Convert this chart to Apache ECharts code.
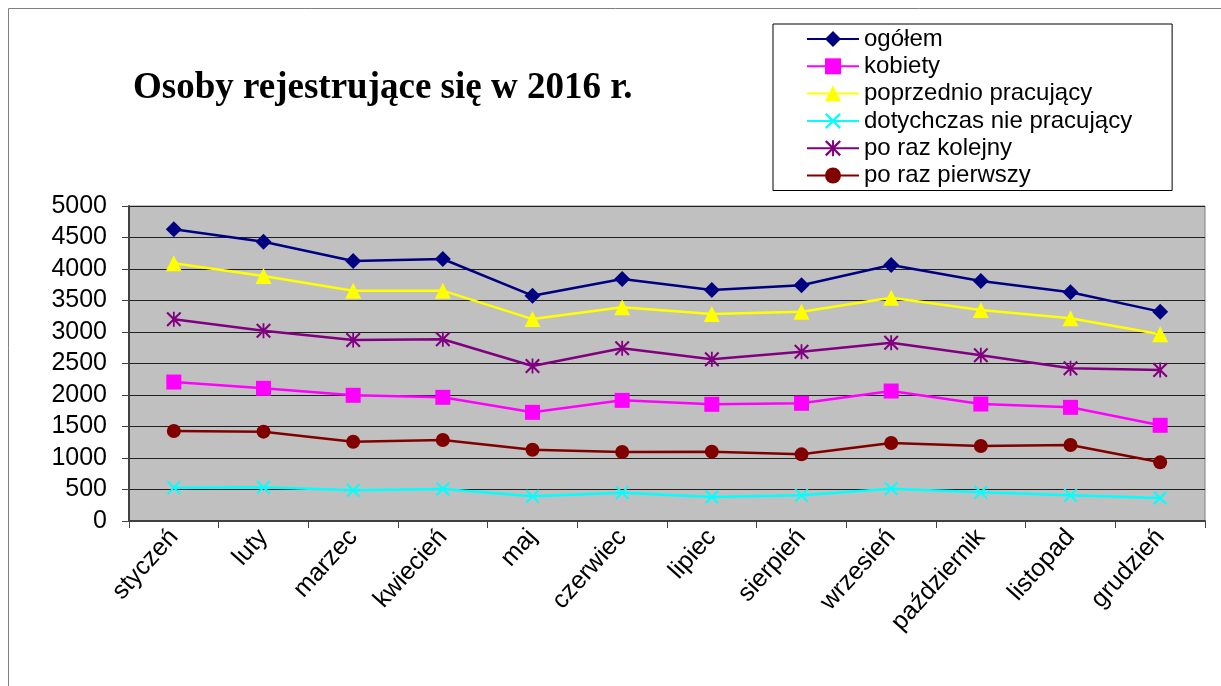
<!DOCTYPE html>
<html>
<head>
<meta charset="utf-8">
<script src="https://cdn.jsdelivr.net/npm/echarts@6/dist/echarts.min.js"></script>
<style>
  html, body { margin: 0; padding: 0; background: #fff; }
  #chart { width: 1221px; height: 686px; }
</style>
</head>
<body>
<div id="chart"></div>
<script>
var months = ['styczeń', 'luty', 'marzec', 'kwiecień', 'maj', 'czerwiec', 'lipiec', 'sierpień', 'wrzesień', 'październik', 'listopad', 'grudzień'];
var ogolem = [4630, 4434, 4127, 4159, 3577, 3841, 3667, 3741, 4063, 3810, 3630, 3323];
var kobiety = [2206, 2106, 1995, 1963, 1725, 1915, 1852, 1868, 2063, 1857, 1804, 1519];
var poprzednio = [4090, 3889, 3656, 3656, 3205, 3392, 3286, 3323, 3545, 3349, 3217, 2963];
var dotychczas = [529, 534, 487, 508, 392, 450, 381, 407, 513, 455, 407, 365];
var kolejny = [3201, 3021, 2873, 2884, 2460, 2741, 2566, 2688, 2831, 2630, 2423, 2397];
var pierwszy = [1429, 1418, 1259, 1286, 1132, 1095, 1101, 1058, 1238, 1190, 1206, 931];

// znaczniki x i gwiazdka jako sciezki
var crossPath = 'path://M0,1 L1,0 L5,4 L9,0 L10,1 L6,5 L10,9 L9,10 L5,6 L1,10 L0,9 L4,5 Z';
var starPath = 'path://M0,1 L1,0 L5,4 L9,0 L10,1 L6,5 L10,9 L9,10 L5,6 L1,10 L0,9 L4,5 Z M4.4,0 L5.6,0 L5.6,10 L4.4,10 Z';

function serie(name, data, color, symbol, size) {
    return {
        name: name,
        type: 'line',
        data: data,
        symbol: symbol,
        symbolSize: size,
        showAllSymbol: true,
        lineStyle: { color: color, width: 2.5 },
        itemStyle: { color: color },
        emphasis: { disabled: true },
        animation: false
    };
}

var myChart = echarts.init(document.getElementById('chart'));
var option = {
    backgroundColor: '#fff',
    animation: false,
    title: {
        text: 'Osoby rejestrujące się w 2016 r.',
        left: 133,
        top: 70,
        padding: 0,
        textStyle: {
            fontFamily: 'Liberation Serif',
            fontWeight: 'bold',
            fontSize: 37,
            color: '#000'
        }
    },
    graphic: [{
        type: 'rect',
        shape: { x: 8.5, y: 8.5, width: 1400, height: 900 },
        style: { fill: 'none', stroke: '#808080', lineWidth: 1 },
        silent: true
    }],
    legend: {
        orient: 'vertical',
        left: 773,
        top: 24,
        padding: [3, 40, 3, 33],
        borderColor: '#000',
        borderWidth: 1,
        backgroundColor: '#fff',
        itemWidth: 52,
        itemHeight: 20,
        itemGap: 3.3,
        textStyle: {
            fontFamily: 'Liberation Sans',
            fontSize: 24,
            lineHeight: 24,
            color: '#000',
            padding: [0, 0, 0, 0]
        },
        data: ['ogółem', 'kobiety', 'poprzednio pracujący', 'dotychczas nie pracujący', 'po raz kolejny', 'po raz pierwszy']
    },
    grid: {
        left: 129,
        right: 16,
        top: 206,
        bottom: 165,
        show: true,
        backgroundColor: '#c0c0c0',
        borderColor: '#808080',
        borderWidth: 1
    },
    xAxis: {
        type: 'category',
        data: months,
        boundaryGap: true,
        axisLine: { lineStyle: { color: '#404040', width: 2 } },
        axisTick: { show: true, length: 7, lineStyle: { color: '#404040' } },
        axisLabel: {
            rotate: 48,
            margin: 12,
            fontFamily: 'Liberation Sans',
            fontSize: 25,
            color: '#000',
            interval: 0
        },
        splitLine: { show: false }
    },
    yAxis: {
        type: 'value',
        min: 0,
        max: 5000,
        interval: 500,
        axisLine: { show: true, lineStyle: { color: '#404040', width: 2 } },
        axisTick: { show: true, length: 7, lineStyle: { color: '#404040' } },
        axisLabel: {
            margin: 22,
            fontFamily: 'Liberation Sans',
            fontSize: 25,
            color: '#000',
            formatter: function (v) { return String(v); }
        },
        splitLine: { lineStyle: { color: '#202020', width: 1 } }
    },
    series: [
        serie('ogółem', ogolem, '#000080', 'diamond', 16),
        serie('kobiety', kobiety, '#ff00ff', 'rect', 15),
        serie('poprzednio pracujący', poprzednio, '#ffff00', 'triangle', 16),
        serie('dotychczas nie pracujący', dotychczas, '#00ffff', crossPath, 14),
        serie('po raz kolejny', kolejny, '#800080', starPath, 15),
        serie('po raz pierwszy', pierwszy, '#800000', 'circle', 14)
    ]
};
myChart.setOption(option);
</script>
</body>
</html>
